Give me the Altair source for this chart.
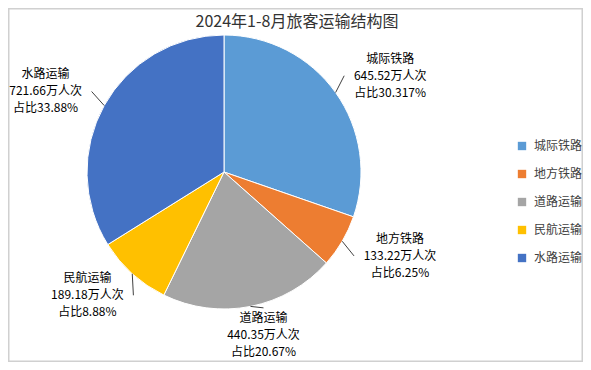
import altair as alt
import pandas as pd

title_text = "2024年1-8月旅客运输结构图"
categories = ["城际铁路", "地方铁路", "道路运输", "民航运输", "水路运输"]
values = [645.52, 133.22, 440.35, 189.18, 721.66]
value_labels = ["645.52", "133.22", "440.35", "189.18", "721.66"]
pct_labels = ["30.317%", "6.25%", "20.67%", "8.88%", "33.88%"]
colors = ["#5B9BD5", "#ED7D31", "#A5A5A5", "#FFC000", "#4472C4"]

df = pd.DataFrame({
    "cat": categories,
    "value": values,
    "idx": list(range(len(categories))),
    "label": [f"{c}\n{v}万人次\n占比{p}" for c, v, p in zip(categories, value_labels, pct_labels)],
})

W, H = 575, 354
CX, CY, R = 216, 164, 137
RX, RY = 204, 166
LH = 17
FONT = "Noto Sans CJK SC"

base = alt.Chart(df)

pie = base.mark_arc(outerRadius=R, stroke="white", strokeWidth=1).encode(
    theta=alt.Theta("value:Q", stack=True),
    order=alt.Order("idx:Q"),
    color=alt.Color("cat:N", scale=alt.Scale(domain=categories, range=colors),
                    sort=categories,
                    legend=alt.Legend(title=None, orient="none", legendX=508, legendY=132,
                                      symbolType="square", symbolSize=70,
                                      symbolStrokeWidth=0,
                                      labelFont=FONT, labelFontSize=12, labelColor="#404040",
                                      rowPadding=16, labelOffset=6)),
    x=alt.value(CX),
    y=alt.value(CY),
)

geo = base.transform_joinaggregate(
    total="sum(value)"
).transform_window(
    cum="sum(value)", sort=[alt.SortField("idx")], frame=[None, 0]
).transform_calculate(
    mid="(datum.cum - datum.value/2)/datum.total*2*PI",
).transform_calculate(
    s="sin(datum.mid)",
    c="cos(datum.mid)",
).transform_calculate(
    lx=f"{CX} + {RX}*datum.s",
    ly=f"{CY} - {RY}*datum.c",
    ex=f"{CX} + {R}*datum.s",
    ey=f"{CY} - {R}*datum.c",
).transform_calculate(
    tx="abs(datum.s) > 0.4 ? datum.lx - (datum.s > 0 ? 1 : -1)*46 : datum.lx",
    ty=f"abs(datum.s) > 0.4 ? datum.ly : datum.ly + (datum.c > 0 ? 1 : -1)*{LH + 10}",
)

leaders = geo.mark_rule(color="#404040", strokeWidth=1).encode(
    x=alt.X("ex:Q", scale=None),
    y=alt.Y("ey:Q", scale=None),
    x2="tx:Q",
    y2="ty:Q",
)

labels = geo.mark_text(font=FONT, fontSize=12, lineHeight=LH, color="#000000",
                       align="center", baseline="middle", lineBreak="\n", dy=-LH).encode(
    x=alt.X("lx:Q", scale=None),
    y=alt.Y("ly:Q", scale=None),
    text="label:N",
)

title = alt.Chart(pd.DataFrame({"t": [title_text]})).mark_text(
    font=FONT, fontSize=16, color="#333333", align="center", baseline="middle"
).encode(text="t:N", x=alt.value(289), y=alt.value(14))

border = alt.Chart(pd.DataFrame({"a": [0]})).mark_rect(
    fill="white", stroke="#D0D0D0", strokeWidth=1.5
).encode(x=alt.value(0.75), x2=alt.value(W - 0.75), y=alt.value(0.75), y2=alt.value(H - 0.75))

chart = alt.layer(border, pie, leaders, labels, title).properties(
    width=W, height=H, padding=0, autosize=alt.AutoSizeParams(type="none")
).configure_view(stroke=None).configure(background="white")

chart.save("out.html", embed_options={"renderer": "svg", "actions": False})
